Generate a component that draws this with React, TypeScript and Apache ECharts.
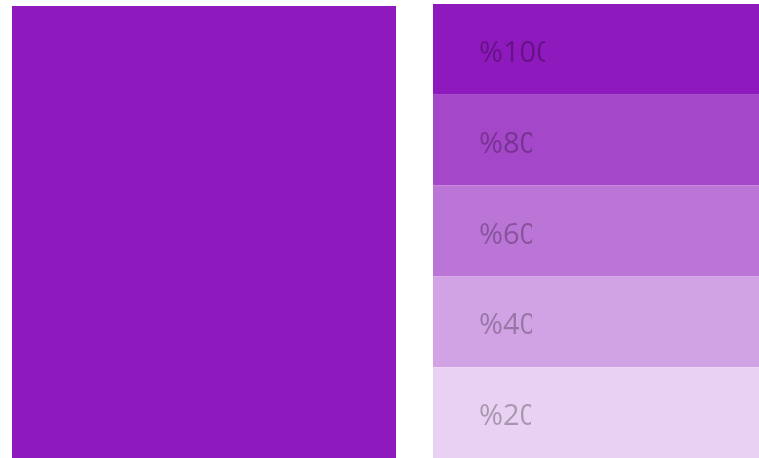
import React, { useEffect, useRef } from "react";
import * as echarts from "echarts";

// ---- data ----
const baseColor = "#8E19BC";
const baseValue = [1];
const tintLabels = ["%100", "%80", "%60", "%40", "%20"];
const tintOpacities = [1, 0.8, 0.6, 0.4, 0.2];

// ---- styles ----
const labelClipWidths = [66, 53, 53, 53, 52];
const labelOffsetX = 46;

function tint(hex: string, a: number): string {
  const n = parseInt(hex.slice(1), 16);
  const r = (n >> 16) & 255, g = (n >> 8) & 255, b = n & 255;
  const mix = (c: number) => Math.round(c * a + 255 * (1 - a));
  return `rgb(${mix(r)},${mix(g)},${mix(b)})`;
}

export default function App() {
  const ref = useRef<HTMLDivElement>(null);
  useEffect(() => {
    if (!ref.current) return;
    const chart = echarts.init(ref.current, undefined, { renderer: "svg" });
    const tintData = tintLabels.map((l, i) => [1, i, tintOpacities[i]]);
    chart.setOption({
      animation: false,
      grid: [
        { left: 12, top: 6, width: 384, bottom: 0, containLabel: false },
        { left: 433, top: 4, right: 0, bottom: 0, containLabel: false },
      ],
      xAxis: [
        { gridIndex: 0, type: "category", data: ["base"], show: false },
        { gridIndex: 1, type: "value", min: 0, max: 1, show: false },
      ],
      yAxis: [
        { gridIndex: 0, type: "value", min: 0, max: 1, show: false },
        { gridIndex: 1, type: "category", data: tintLabels, inverse: true, show: false },
      ],
      series: [
        {
          type: "bar",
          xAxisIndex: 0,
          yAxisIndex: 0,
          data: baseValue,
          barWidth: "100%",
          itemStyle: { color: baseColor },
          silent: true,
        },
        {
          type: "custom",
          xAxisIndex: 1,
          yAxisIndex: 1,
          data: tintData,
          silent: true,
          renderItem: (params: any, api: any) => {
            const idx = api.value(1);
            const p0 = api.coord([0, idx]);
            const p1 = api.coord([api.value(0), idx]);
            const h = api.size([0, 1])[1];
            const y = p0[1] - h / 2;
            const tx = p0[0] + labelOffsetX;
            const i = params.dataIndex;
            return {
              type: "group",
              children: [
                {
                  type: "rect",
                  shape: { x: p0[0], y, width: p1[0] - p0[0], height: h },
                  style: { fill: tint(baseColor, api.value(2)) },
                },
                {
                  type: "group",
                  clipPath: {
                    type: "rect",
                    shape: { x: tx - 5, y, width: labelClipWidths[i] + 5, height: h },
                  },
                  children: [
                    {
                      type: "text",
                      x: tx,
                      y: p0[1] + 1,
                      style: {
                        text: tintLabels[i],
                        fontFamily: "Open Sans",
                        fontSize: 29,
                        fill: "rgba(0,0,0,0.28)",
                        align: "left",
                        verticalAlign: "middle",
                      },
                    },
                  ],
                },
              ],
            };
          },
        },
      ],
    });
    return () => chart.dispose();
  }, []);
  return (
    <div
      ref={ref}
      style={{ position: "fixed", left: 0, top: 0, width: 759, height: 458 }}
    />
  );
}
